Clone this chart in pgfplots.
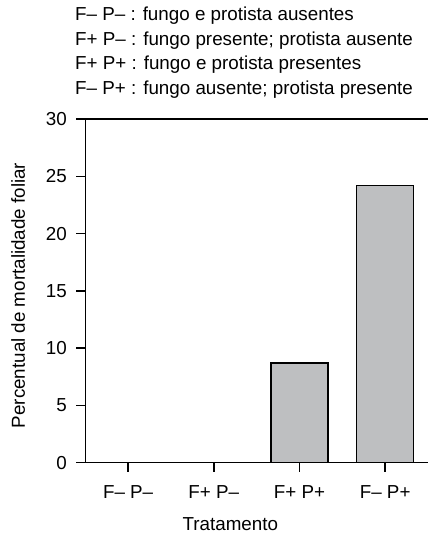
\documentclass[border=0pt]{standalone}
\usepackage{fontspec}
\setmainfont{Liberation Sans}
\usepackage{pgfplots}
\pgfplotsset{compat=1.18}
\definecolor{barfill}{RGB}{190,191,193}
\newcommand{\lf}{\fontsize{18.8bp}{22bp}\selectfont}
\begin{document}
\begin{tikzpicture}
\begin{axis}[
  at={(0,0)}, anchor=south west,
  scale only axis, width=342.7bp, height=343.7bp,
  xmin=-0.5, xmax=3.5, ymin=0, ymax=30,
  axis x line*=bottom, axis y line*=left,
  axis on top,
  xtick={0,1,2,3},
  xticklabels={F\textendash\ P\textendash, F+ P\textendash, F+ P+, F\textendash\ P+},
  ytick={0,5,10,15,20,25,30},
  tick align=outside, major tick length=9bp,
  every tick/.style={line width=1.3bp, black},
  xtick style={line width=1.7bp, black},
  axis line style={line width=1.3bp, black},
  ticklabel style={font=\lf},
  /pgf/number format/assume math mode=true,
  xticklabel style={anchor=base, yshift=-27bp},
  yticklabel style={xshift=-6bp},
  clip=false,
]
\addplot[ybar, bar width=57bp, fill=barfill, draw=black, line width=1.3bp] coordinates {(2,8.7) (3,24.2)};
\draw[line width=1.3bp] (axis cs:-0.5,30) -- (axis cs:3.5,30);
\end{axis}
\node[anchor=base, rotate=90, font=\lf] at (-60.3bp,167.2bp) {Percentual de mortalidade foliar};
\node[anchor=base, font=\lf] at (145bp,-67.3bp) {Tratamento};
\node[anchor=base west, font=\lf, inner sep=0pt] at (-10.3bp,442bp) {F\textendash\ P\textendash\ : fungo e protista ausentes};
\node[anchor=base west, font=\lf, inner sep=0pt] at (-10.3bp,417.2bp) {F+ P\textendash\ : fungo presente; protista ausente};
\node[anchor=base west, font=\lf, inner sep=0pt] at (-10.3bp,392.7bp) {F+ P+ : fungo e protista presentes};
\node[anchor=base west, font=\lf, inner sep=0pt] at (-10.3bp,368.4bp) {F\textendash\ P+ : fungo ausente; protista presente};
\pgfresetboundingbox
\path (-85.3bp,-72.3bp) rectangle (342.7bp,462.7bp);
\end{tikzpicture}
\end{document}
